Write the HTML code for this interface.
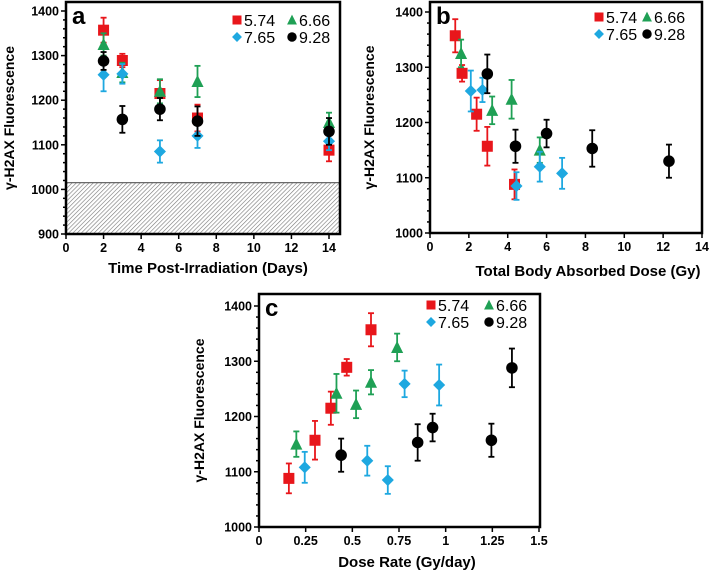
<!DOCTYPE html>
<html><head><meta charset="utf-8"><style>
body{margin:0;background:#fff;}
svg{display:block;font-family:"Liberation Sans",Arial,sans-serif;}
</style></head><body>
<svg id="fig" width="709" height="572" viewBox="0 0 709 572">
<defs><pattern id="hatch" patternUnits="userSpaceOnUse" width="3" height="3" patternTransform="rotate(45)"><rect width="3" height="3" fill="#fff"/><line x1="0" y1="0" x2="0" y2="3" stroke="#777" stroke-width="1.2"/></pattern></defs>
</svg>
<script>
const seriesNames=["5.74","6.66","7.65","9.28"];
const colors=["#e8161b","#1fa055","#1ea8e0","#000"];
// panel a: time (days)
const aRedX=[2,3,5,7,14], aRedY=[1357,1289,1215,1160,1088], aRedE=[28,15,30,30,25];
const aGrnX=[2,3,5,7,14], aGrnY=[1325,1262,1220,1242,1150], aGrnE=[25,22,27,35,22];
const aBluX=[2,3,5,7,14], aBluY=[1257,1259,1085,1120,1108], aBluE=[37,22,25,27,20];
const aBlkX=[2,3,5,7,14], aBlkY=[1288,1157,1180,1153,1130], aBlkE=[20,30,25,33,30];
// panel b: total dose (Gy)
const bRedX=[1.3,1.65,2.4,2.95,4.35], bRedY=[1357,1289,1215,1157,1088], bRedE=[30,15,30,35,27];
const bGrnX=[1.6,3.2,4.2,5.65], bGrnY=[1325,1222,1242,1150], bGrnE=[25,25,35,23];
const bBluX=[2.1,2.7,4.45,5.65,6.8], bBluY=[1257,1259,1085,1120,1108], bBluE=[37,22,25,27,28];
const bBlkX=[2.95,4.4,6,8.35,12.3], bBlkY=[1288,1157,1180,1153,1130], bBlkE=[35,30,25,33,30];
// panel c: dose rate (Gy/day)
const cRedX=[0.16,0.3,0.385,0.47,0.6], cRedY=[1088,1157,1215,1289,1357], cRedE=[27,35,30,15,30];
const cGrnX=[0.2,0.415,0.52,0.6,0.74], cGrnY=[1150,1242,1222,1262,1325], cGrnE=[23,35,25,22,25];
const cBluX=[0.245,0.58,0.69,0.78,0.965], cBluY=[1108,1120,1085,1259,1257], cBluE=[28,27,25,24,37];
const cBlkX=[0.44,0.85,0.93,1.245,1.355], cBlkY=[1130,1153,1180,1157,1288], cBlkE=[30,33,25,30,35];
const aXTicks=["0","2","4","6","8","10","12","14"], aYTicks=["900","1000","1100","1200","1300","1400"];
const bXTicks=["0","2","4","6","8","10","12","14"], bYTicks=["1000","1100","1200","1300","1400"];
const cXTicks=["0","0.25","0.5","0.75","1","1.25","1.5"], cYTicks=["1000","1100","1200","1300","1400"];

const svg=document.getElementById('fig');
const NS="http://www.w3.org/2000/svg";
function mk(tag,attrs,parent){const e=document.createElementNS(NS,tag);for(const k in attrs)e.setAttribute(k,attrs[k]);(parent||svg).appendChild(e);return e;}
function marker(g,i,x,y,s){
  let e;
  if(i===0){e=mk('rect',{x:x-s,y:y-s,width:2*s,height:2*s,fill:colors[0]},g);}
  else if(i===1){e=mk('polygon',{points:`${x},${y-s*1.2} ${x+s*1.1},${y+s} ${x-s*1.1},${y+s}`,fill:colors[1]},g);}
  else if(i===2){e=mk('polygon',{points:`${x},${y-s*1.1} ${x+s*1.1},${y} ${x},${y+s*1.1} ${x-s*1.1},${y}`,fill:colors[2]},g);}
  else {e=mk('circle',{cx:x,cy:y,r:s*1.05,fill:colors[3]},g);}
  return e;
}
function panel(o){
  const g=mk('g',{});
  
  
  const X=v=>o.x0+(v-o.xmin)/(o.xmax-o.xmin)*(o.x1-o.x0);
  const Y=v=>o.y0-(v-o.ymin)/(o.ymax-o.ymin)*(o.y0-o.y1);
  if(o.hatch){const hr=mk('rect',{x:o.x0,y:Y(o.hatch),width:o.right-o.x0,height:o.y0-Y(o.hatch),fill:'url(#hatch)',stroke:'#444','stroke-width':1},g);
    }
  const fr=mk('rect',{x:o.x0,y:o.top,width:o.right-o.x0,height:o.y0-o.top,fill:'none',stroke:'#000','stroke-width':2.5},g);
  
  for(let v=o.ymin;v<=o.ymax;v+=20){const y=Y(v);const maj=(v%100===0);mk('line',{x1:o.x0-(maj?5:3),x2:o.x0,y1:y,y2:y,stroke:'#000','stroke-width':1.5},g);}
  o.yt.forEach(t=>{const tx=mk('text',{x:o.x0-7,y:Y(+t)+4.5,'text-anchor':'end','font-size':12.5,'font-weight':'bold'},g);tx.textContent=t;
    });
  o.xt.forEach(t=>{const x=X(+t);mk('line',{x1:x,x2:x,y1:o.y0,y2:o.y0+5,stroke:'#000','stroke-width':1.5},g);
    const tx=mk('text',{x:x,y:o.y0+18,'text-anchor':'middle','font-size':12.5,'font-weight':'bold'},g);tx.textContent=t;
    });
  const yl=mk('text',{x:0,y:0,transform:`translate(${o.ytx},${(o.top+o.y0)/2}) rotate(-90)`,'text-anchor':'middle','font-size':14,'font-weight':'bold'},g);
  yl.textContent='γ-H2AX Fluorescence';
  const xl=mk('text',{x:o.xtx,y:o.xty,'text-anchor':'middle','font-size':15,'font-weight':'bold'},g);
  xl.textContent=o.xtitle;
  const pl=mk('text',{x:o.x0+6,y:o.top+22,'font-size':24,'font-weight':'bold'},g);
  pl.textContent=o.id;
  o.series.forEach((s,i)=>{
    const sg=mk('g',{},g);
    
    
    s[0].forEach((xv,j)=>{
      const x=X(xv),y=Y(s[1][j]),yh=Y(s[1][j]+s[2][j]),yl2=Y(s[1][j]-s[2][j]);
      mk('line',{x1:x,x2:x,y1:yh,y2:yl2,stroke:colors[i],'stroke-width':1.8},sg);
      mk('line',{x1:x-3,x2:x+3,y1:yh,y2:yh,stroke:colors[i],'stroke-width':1.8},sg);
      mk('line',{x1:x-3,x2:x+3,y1:yl2,y2:yl2,stroke:colors[i],'stroke-width':1.8},sg);
      const m=marker(sg,i,x,y,5.5);
      
      
    });
  });
  const lg=mk('g',{},g);
  
  
  const pos=[[0,0],[1,0],[0,1],[1,1]];
  [0,1,2,3].forEach(i=>{
    const lx=o.lx+pos[i][0]*o.lcol, ly=o.ly+pos[i][1]*17;
    marker(lg,i,lx,ly,4.5);
    const t=mk('text',{x:lx+7,y:ly+6,'font-size':16},lg);t.textContent=seriesNames[i];
    
  });
}
panel({id:'a',x0:66,x1:329,xmin:0,xmax:14,right:340,top:2,y0:234,y1:11,ymin:900,ymax:1400,hatch:1015,
  xt:aXTicks,yt:aYTicks,xtitle:'Time Post-Irradiation (Days)',xtx:208,xty:273,ytx:14,lx:237,ly:20,lcol:55,
  series:[[aRedX,aRedY,aRedE],[aGrnX,aGrnY,aGrnE],[aBluX,aBluY,aBluE],[aBlkX,aBlkY,aBlkE]]});
panel({id:'b',x0:430,x1:702,xmin:0,xmax:14,right:702,top:2,y0:233,y1:12,ymin:1000,ymax:1400,
  xt:bXTicks,yt:bYTicks,xtitle:'Total Body Absorbed Dose (Gy)',xtx:588,xty:276,ytx:374,lx:599,ly:17,lcol:48,
  series:[[bRedX,bRedY,bRedE],[bGrnX,bGrnY,bGrnE],[bBluX,bBluY,bBluE],[bBlkX,bBlkY,bBlkE]]});
panel({id:'c',x0:259,x1:539,xmin:0,xmax:1.5,right:540,top:294,y0:527,y1:306,ymin:1000,ymax:1400,
  xt:cXTicks,yt:cYTicks,xtitle:'Dose Rate (Gy/day)',xtx:407,xty:567,ytx:204,lx:431,ly:305,lcol:58,
  series:[[cRedX,cRedY,cRedE],[cGrnX,cGrnY,cGrnE],[cBluX,cBluY,cBluE],[cBlkX,cBlkY,cBlkE]]});
</script>
</body></html>
